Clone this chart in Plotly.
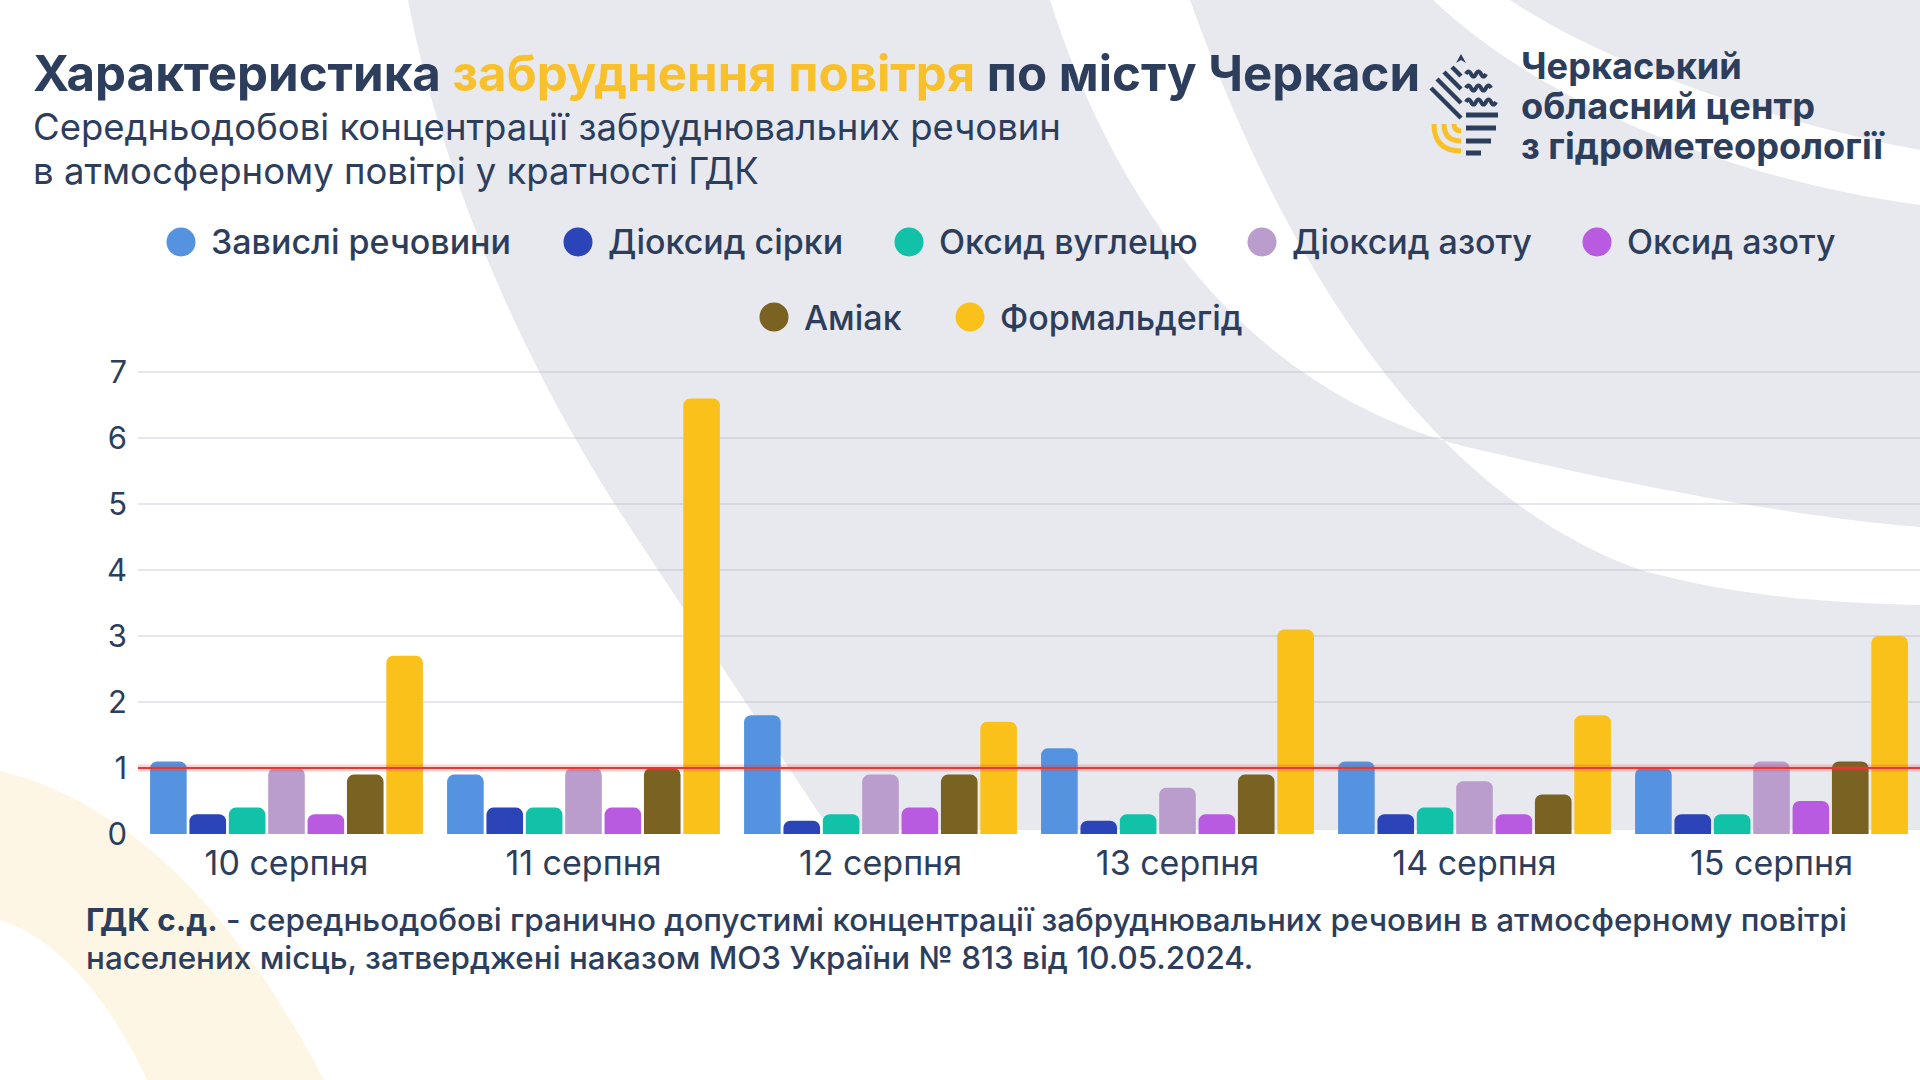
import plotly.graph_objects as go

# ---------------- data ----------------
DATES = ["10 серпня", "11 серпня", "12 серпня", "13 серпня", "14 серпня", "15 серпня"]
SERIES = ["Завислі речовини", "Діоксид сірки", "Оксид вуглецю", "Діоксид азоту",
          "Оксид азоту", "Аміак", "Формальдегід"]
suspended = [1.1, 0.9, 1.8, 1.3, 1.1, 1.0]
sulfur_dioxide = [0.3, 0.4, 0.2, 0.2, 0.3, 0.3]
carbon_oxide = [0.4, 0.4, 0.3, 0.3, 0.4, 0.3]
nitrogen_dioxide = [1.0, 1.0, 0.9, 0.7, 0.8, 1.1]
nitrogen_oxide = [0.3, 0.4, 0.4, 0.3, 0.3, 0.5]
ammonia = [0.9, 1.0, 0.9, 0.9, 0.6, 1.1]
formaldehyde = [2.7, 6.6, 1.7, 3.1, 1.8, 3.0]
VALUES = [suspended, sulfur_dioxide, carbon_oxide, nitrogen_dioxide,
          nitrogen_oxide, ammonia, formaldehyde]
Y_TICKS = [0, 1, 2, 3, 4, 5, 6, 7]
GDK_LIMIT = 1

TITLE_A = "Характеристика "
TITLE_B = "забруднення повітря"
TITLE_C = " по місту Черкаси"
SUB_1 = "Середньодобові концентрації забруднювальних речовин"
SUB_2 = "в атмосферному повітрі у кратності ГДК"
NOTE_1 = "<b>ГДК с.д.</b> - середньодобові гранично допустимі концентрації забруднювальних речовин в атмосферному повітрі"
NOTE_2 = "населених місць, затверджені наказом МОЗ України № 813 від 10.05.2024."
ORG = ["Черкаський", "обласний центр", "з гідрометеорології"]

# ---------------- style ----------------
COLORS = ["#5593E0", "#2B45B8", "#12C2A8", "#BA9DCC", "#B85BE0", "#7A6322", "#FBC11B"]
NAVY = "#2C3E5C"
YELLOW = "#F8C12C"
GRAY_BG = "#E8E9EE"
FONT = "Inter"

W, H = 1920, 1080
ML, MR, MT, MB = 138, 0, 370, 246
PW, PH = W - ML - MR, H - MT - MB


def px(x):
    return (x - ML) / PW


def py(y):
    return (H - MB - y) / PH


def path(cmds):
    out = []
    for c in cmds:
        op, nums = c[0], c[1:]
        pts = []
        for i in range(0, len(nums), 2):
            pts.append(f"{px(nums[i]):.5f},{py(nums[i + 1]):.5f}")
        out.append(op + " " + " ".join(pts) if pts else op)
    return " ".join(out)


fig = go.Figure()
for name, vals, col in zip(SERIES, VALUES, COLORS):
    fig.add_trace(go.Bar(x=DATES, y=vals, name=name, marker_color=col,
                         marker_line_width=0, showlegend=False, hoverinfo="skip"))

shapes = []
# background: big gray swoosh
shapes.append(dict(type="path", xref="paper", yref="paper", layer="below", line_width=0,
                   fillcolor=GRAY_BG,
                   path=path([("M", 408, 0), ("C", 440, 170, 520, 360, 625, 520),
                              ("L", 830, 830), ("L", 1920, 830), ("L", 1920, 0), ("Z",)])))
# white middle band
shapes.append(dict(type="path", xref="paper", yref="paper", layer="below", line_width=0,
                   fillcolor="white",
                   path=path([("M", 1050, 0), ("C", 1120, 220, 1260, 400, 1480, 450),
                              ("C", 1650, 490, 1820, 520, 1920, 527), ("L", 1920, 605),
                              ("C", 1850, 603, 1750, 600, 1640, 570),
                              ("C", 1420, 490, 1280, 250, 1190, 0), ("Z",)])))
# white top-right band
shapes.append(dict(type="path", xref="paper", yref="paper", layer="below", line_width=0,
                   fillcolor="white",
                   path=path([("M", 1510, 0), ("C", 1600, 60, 1760, 120, 1920, 150),
                              ("L", 1920, 205), ("C", 1740, 180, 1550, 110, 1433, 0), ("Z",)])))
# cream arc bottom-left
shapes.append(dict(type="path", xref="paper", yref="paper", layer="below", line_width=0,
                   fillcolor="#FDF6E4",
                   path=path([("M", 0, 771), ("C", 120, 800, 230, 900, 324, 1080),
                              ("L", 147, 1080), ("C", 110, 1000, 60, 940, 0, 920), ("Z",)])))

# GDK limit line (glow + line)
shapes.append(dict(type="line", xref="paper", yref="y", x0=0, x1=1, y0=GDK_LIMIT, y1=GDK_LIMIT,
                   line=dict(color="rgba(229,57,53,0.22)", width=7), layer="above"))
shapes.append(dict(type="line", xref="paper", yref="y", x0=0, x1=1, y0=GDK_LIMIT, y1=GDK_LIMIT,
                   line=dict(color="#E53935", width=2), layer="above"))

# ---- logo icon ----
def seg(x0, y0, x1, y1, color=NAVY, w=4.5):
    return dict(type="line", xref="paper", yref="paper", x0=px(x0), y0=py(y0), x1=px(x1), y1=py(y1),
                line=dict(color=color, width=w), layer="above")


shapes.append(dict(type="path", xref="paper", yref="paper", line_width=0, fillcolor=NAVY,
                   path=path([("M", 1461, 54), ("L", 1466, 63), ("L", 1461, 60), ("L", 1456, 63), ("Z",)])))
for (a, b, c, d) in [(1452, 67, 1461, 76), (1444, 72, 1461, 89), (1437, 79, 1461, 103), (1431, 88, 1461, 118)]:
    shapes.append(seg(a, b, c, d))
for i, y0 in enumerate([74, 88, 102]):
    x0 = 1466
    xe = [1486, 1493, 1497][i]
    cmds = [("M", x0, y0)]
    x = x0
    up = True
    while x + 5 <= xe:
        cmds.append(("Q", x + 2.5, y0 - 5 if up else y0 + 5, x + 5, y0))
        x += 5
        up = not up
    shapes.append(dict(type="path", xref="paper", yref="paper", path=path(cmds),
                       line=dict(color=NAVY, width=4), layer="above"))
for y0, xe in [(115, 1498), (128, 1496), (141, 1491), (153, 1481)]:
    shapes.append(seg(1466, y0, xe, y0, w=5))
for r in [7, 17, 27]:
    shapes.append(dict(type="path", xref="paper", yref="paper",
                       path=path([("M", 1461 - r, 124), ("Q", 1461 - r, 124 + r, 1461, 124 + r)]),
                       line=dict(color=YELLOW, width=5), layer="above"))

# ---- custom legend markers ----
LEGEND_POS = [(181, 242), (578, 242), (909, 242), (1262, 242), (1597, 242), (774, 317), (970, 317)]
annotations = []
for (cx, cy), name, col in zip(LEGEND_POS, SERIES, COLORS):
    shapes.append(dict(type="circle", xref="paper", yref="paper", xsizemode="pixel", ysizemode="pixel",
                       xanchor=px(cx), yanchor=py(cy), x0=-14.5, x1=14.5, y0=-14.5, y1=14.5,
                       fillcolor=col, line_width=0, layer="above"))
    annotations.append(dict(xref="paper", yref="paper", x=px(cx + 28), y=py(cy), text=name,
                            showarrow=False, xanchor="left", yanchor="middle",
                            font=dict(family=FONT, size=34, color=NAVY, weight=500)))


def txt(x, y, text, size, weight=400, color=NAVY):
    annotations.append(dict(xref="paper", yref="paper", x=px(x), y=py(y), text=text, showarrow=False,
                            xanchor="left", yanchor="middle",
                            font=dict(family=FONT, size=size, color=color, weight=weight)))


txt(31, 73, f"<b>{TITLE_A}<span style='color:{YELLOW}'>{TITLE_B}</span>{TITLE_C}</b>", 49.2)
txt(31, 127, SUB_1, 36.5)
txt(31, 171, SUB_2, 36.5)
txt(84, 920, NOTE_1, 31.4, 500)
txt(84, 958, NOTE_2, 31.4, 500)
for i, line in enumerate(ORG):
    txt(1519, 66 + i * 40, f"<b>{line}</b>", 36.2)

fig.update_layout(
    width=W, height=H,
    margin=dict(l=ML, r=MR, t=MT, b=MB, pad=0),
    paper_bgcolor="white", plot_bgcolor="rgba(0,0,0,0)",
    barmode="group", bargap=0.072, bargroupgap=0.07, barcornerradius=7,
    shapes=shapes, annotations=annotations,
    font=dict(family=FONT, color=NAVY),
    showlegend=False,
    xaxis=dict(type="category", showgrid=False, zeroline=False, showline=False,
               tickfont=dict(family=FONT, size=34, color=NAVY), ticks="", ticklabelstandoff=6),
    yaxis=dict(range=[0, 7.03], tickvals=Y_TICKS, showgrid=True,
               gridcolor="rgba(165,170,185,0.28)", gridwidth=1.5, zeroline=False, showline=False,
               tickfont=dict(family=FONT, size=31, color=NAVY), ticks="", ticklabelstandoff=10),
)

fig.write_html("out.html", config={"displayModeBar": False},
               post_script="document.body.style.margin='0';document.body.style.overflow='hidden';")
